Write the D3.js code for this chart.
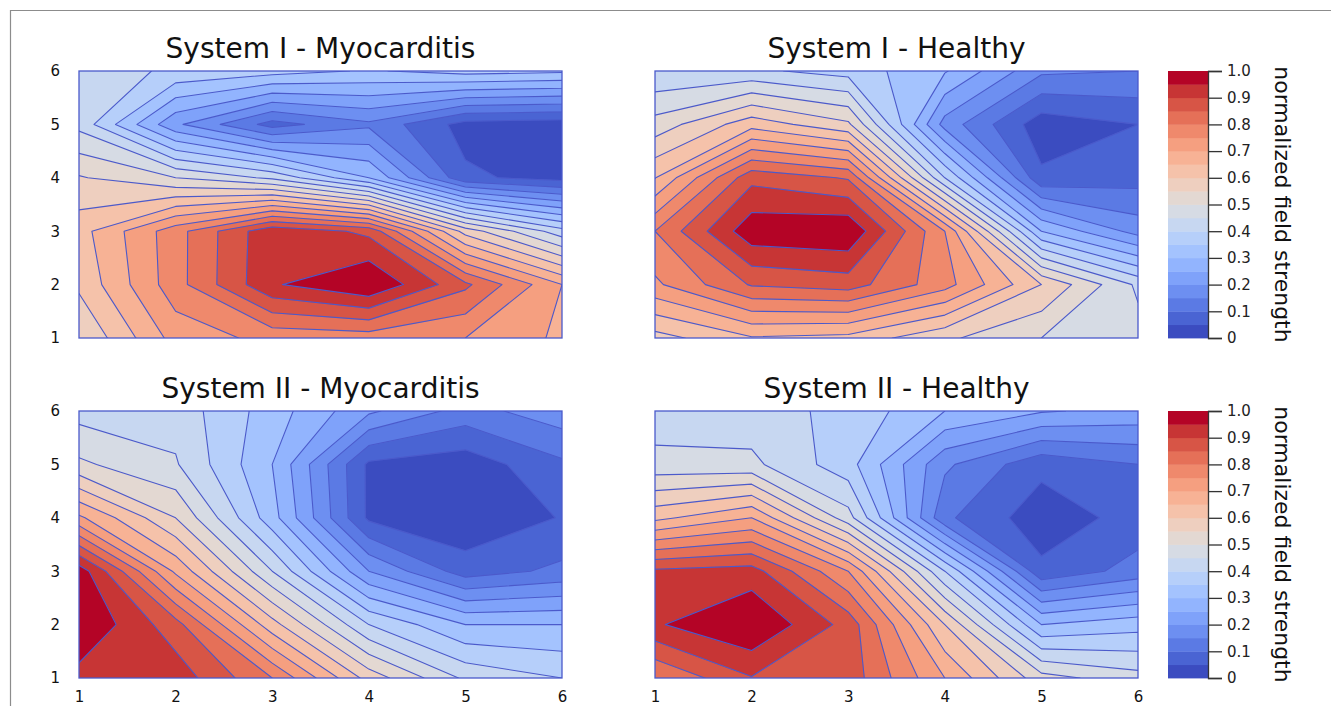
<!DOCTYPE html>
<html>
<head>
<meta charset="utf-8">
<script src="https://cdn.jsdelivr.net/npm/d3@7"></script>
<style>
  html, body { margin: 0; padding: 0; background: #ffffff; }
  svg { display: block; font-family: "DejaVu Sans", sans-serif; }
</style>
</head>
<body>
<svg id="chart" width="1331" height="706"></svg>
<script>
// ---- data -------------------------------------------------------------
// grid coordinates of the measurement points
const xValues = [1, 2, 3, 4, 5, 6];
const yValues = [1, 2, 3, 4, 5, 6];
const xTickLabels = ["1", "2", "3", "4", "5", "6"];
const yTickLabels = ["1", "2", "3", "4", "5", "6"];

// contour band lower bounds (20 bands of 0.05)
const levels = d3.range(20).map(i => +(i * 0.05).toFixed(2));
const colorbarTicks = [0, 0.1, 0.2, 0.3, 0.4, 0.5, 0.6, 0.7, 0.8, 0.9, 1.0];
const colorbarTickLabels = ["0", "0.1", "0.2", "0.3", "0.4", "0.5", "0.6", "0.7", "0.8", "0.9", "1.0"];
const colorbarLabel = "normalized field strength";

// normalized field strength, rows from y = 6 (top) down to y = 1, columns x = 1..6
const sys1Myocarditis = [
  [0.43, 0.39, 0.37, 0.345, 0.37, 0.36],
  [0.435, 0.21, 0.08, 0.14, 0.03, 0.02],
  [0.555, 0.50, 0.44, 0.30, 0.06, 0.03],
  [0.63, 0.78, 0.94, 0.888, 0.58, 0.42],
  [0.61, 0.78, 0.944, 1.00, 0.861, 0.70],
  [0.55, 0.72, 0.766, 0.773, 0.75, 0.69]
];
const sys1Healthy = [
  [0.405, 0.41, 0.38, 0.305, 0.16, 0.15],
  [0.52, 0.63, 0.56, 0.18, 0.02, 0.05],
  [0.648, 0.885, 0.845, 0.40, 0.06, 0.08],
  [0.80, 0.985, 0.995, 0.75, 0.30, 0.18],
  [0.74, 0.855, 0.874, 0.77, 0.60, 0.44],
  [0.58, 0.645, 0.634, 0.56, 0.50, 0.47]
];
const sys2Myocarditis = [
  [0.43, 0.43, 0.325, 0.21, 0.13, 0.18],
  [0.51, 0.455, 0.30, 0.04, 0.02, 0.09],
  [0.71, 0.55, 0.32, 0.04, 0.01, 0.053],
  [0.98, 0.69, 0.45, 0.20, 0.075, 0.112],
  [1.00, 0.87, 0.62, 0.40, 0.30, 0.30],
  [0.93, 0.93, 0.80, 0.58, 0.44, 0.40]
];
const sys2Healthy = [
  [0.42, 0.42, 0.387, 0.30, 0.255, 0.235],
  [0.467, 0.462, 0.37, 0.16, 0.065, 0.10],
  [0.636, 0.70, 0.47, 0.11, 0.02, 0.07],
  [0.91, 0.922, 0.75, 0.40, 0.062, 0.12],
  [0.944, 1.00, 0.881, 0.60, 0.30, 0.33],
  [0.80, 0.897, 0.88, 0.70, 0.52, 0.47]
];

const titles = [
  "System I - Myocarditis",
  "System I - Healthy",
  "System II - Myocarditis",
  "System II - Healthy"
];

// ---- styling ----------------------------------------------------------
// diverging cool-to-warm palette
const coolwarmStops = [
  "#3b4cc0", "#4d68d7", "#6282ea", "#779af7", "#8db0fe", "#a3c2fe",
  "#b8d0f9", "#ccd9ee", "#dddcdc", "#ecd3c5", "#f5c4ad", "#f7b194",
  "#f49a7b", "#ec7f63", "#dd604c", "#cb3e38", "#b40426"
];
const coolwarm = d3.piecewise(d3.interpolateRgb, coolwarmStops);
const bandColor = i => coolwarm(i / (levels.length - 1));
const lineColor = "#4b5acb";

const svg = d3.select("#chart");

// page frame
svg.append("path")
  .attr("d", "M10.5,706 V10.5 H1331")
  .attr("fill", "none")
  .attr("stroke", "#8c8c8c")
  .attr("stroke-width", 1.2);

const panels = [
  { grid: sys1Myocarditis, title: titles[0], left: 79,  top: 71,  showX: false, showY: true },
  { grid: sys1Healthy,     title: titles[1], left: 655, top: 71,  showX: false, showY: false },
  { grid: sys2Myocarditis, title: titles[2], left: 79,  top: 411, showX: true,  showY: true },
  { grid: sys2Healthy,     title: titles[3], left: 655, top: 411, showX: true,  showY: false }
];
const W = 483, H = 267;

const x = d3.scaleLinear().domain([d3.min(xValues), d3.max(xValues)]).range([0, W]);
const y = d3.scaleLinear().domain([d3.min(yValues), d3.max(yValues)]).range([H, 0]);

const nx = xValues.length, ny = yValues.length;
// grid cell (i + 0.5, j + 0.5) holds the value at x = xValues[i], y = yValues[ny - 1 - j]
const gridToPlot = d3.geoTransform({
  point(gx, gy) {
    this.stream.point(x(xValues[0] + gx - 0.5), y(yValues[ny - 1] - (gy - 0.5)));
  }
});
const path = d3.geoPath(gridToPlot);

panels.forEach((p, k) => {
  const g = svg.append("g").attr("transform", `translate(${p.left},${p.top})`);
  const clipId = "clip" + k;
  g.append("clipPath").attr("id", clipId)
    .append("rect").attr("width", W).attr("height", H);

  const contours = d3.contours().size([nx, ny]).thresholds(levels)(p.grid.flat());

  const body = g.append("g").attr("clip-path", `url(#${clipId})`);
  body.selectAll("path.fill")
    .data(contours)
    .join("path")
    .attr("class", "fill")
    .attr("d", path)
    .attr("fill", (d, i) => bandColor(i))
    .attr("stroke", (d, i) => bandColor(i))
    .attr("stroke-width", 0.5);
  body.selectAll("path.line")
    .data(contours.slice(1))
    .join("path")
    .attr("class", "line")
    .attr("d", path)
    .attr("fill", "none")
    .attr("stroke", lineColor)
    .attr("stroke-width", 1.1)
    .attr("stroke-linejoin", "round");

  g.append("rect")
    .attr("width", W).attr("height", H)
    .attr("fill", "none")
    .attr("stroke", lineColor)
    .attr("stroke-width", 1.3);

  g.append("text")
    .attr("x", W / 2)
    .attr("y", -13)
    .attr("text-anchor", "middle")
    .attr("font-size", 28)
    .attr("fill", "#111")
    .text(p.title);

  if (p.showY) {
    const ay = g.append("g")
      .call(d3.axisLeft(y).tickValues(yValues).tickFormat((d, i) => yTickLabels[i]).tickSize(0).tickPadding(19));
    ay.select(".domain").remove();
    ay.selectAll("text").attr("font-size", 15).attr("font-family", "DejaVu Sans, sans-serif").attr("fill", "#111");
  }
  if (p.showX) {
    const ax = g.append("g").attr("transform", `translate(0,${H})`)
      .call(d3.axisBottom(x).tickValues(xValues).tickFormat((d, i) => xTickLabels[i]).tickSize(0).tickPadding(13));
    ax.select(".domain").remove();
    ax.selectAll("text").attr("font-size", 15).attr("font-family", "DejaVu Sans, sans-serif").attr("fill", "#111");
  }
});

// ---- colorbars ---------------------------------------------------------
[71, 411].forEach(top => {
  const cbLeft = 1168, cbW = 40;
  const cy = d3.scaleLinear().domain([0, 1]).range([top + H, top]);
  const cb = svg.append("g");
  cb.selectAll("rect")
    .data(levels)
    .join("rect")
    .attr("x", cbLeft)
    .attr("y", d => cy(d + 0.05))
    .attr("width", cbW)
    .attr("height", d => cy(d) - cy(d + 0.05) + 0.4)
    .attr("fill", (d, i) => bandColor(i));

  const axis = svg.append("g")
    .attr("transform", `translate(${cbLeft + cbW},0)`)
    .call(d3.axisRight(cy).tickValues(colorbarTicks)
      .tickFormat((d, i) => colorbarTickLabels[i]).tickSize(14).tickPadding(5));
  axis.select(".domain").attr("stroke", "#333").attr("stroke-width", 1.3);
  axis.selectAll(".tick line").attr("stroke", "#333").attr("stroke-width", 1.3);
  axis.selectAll("text").attr("font-size", 15).attr("font-family", "DejaVu Sans, sans-serif").attr("fill", "#222");

  svg.append("text")
    .attr("transform", `translate(1275,${top + H / 2}) rotate(90)`)
    .attr("text-anchor", "middle")
    .attr("font-size", 22)
    .attr("fill", "#111")
    .text(colorbarLabel);
});
</script>
</body>
</html>
